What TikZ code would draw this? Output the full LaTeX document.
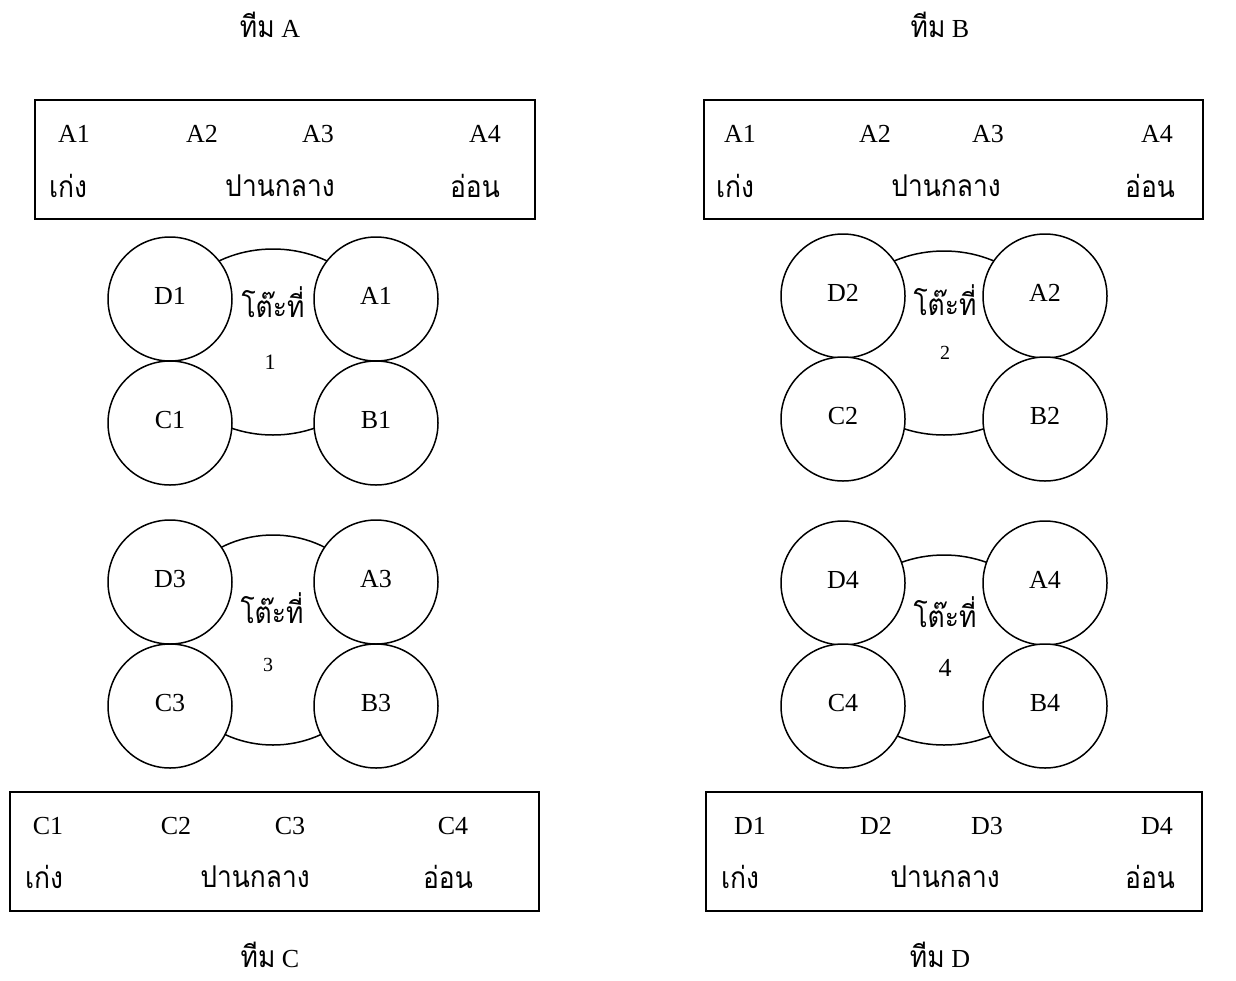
\documentclass[tikz,border=0pt]{standalone}
\usepackage{fontspec}
\setmainfont{Liberation Serif}
\newfontfamily\thaifont[Script=Thai,FakeStretch=0.88]{Loma}
\usetikzlibrary{shapes.geometric}
\tikzset{
  seat/.style={circle, draw, line width=1.5pt, fill=white, minimum size=124pt, inner sep=0pt},
  tableshape/.style={ellipse, draw, line width=1.5pt, minimum width=220pt, inner sep=0pt},
  teambox/.style={draw, line width=2pt, inner sep=0pt},
  lbl/.style={font=\fontsize{26}{28}\selectfont, inner sep=0pt},
  small/.style={font=\fontsize{20}{22}\selectfont, inner sep=0pt},
  th/.style={font=\fontsize{30}{32}\selectfont\thaifont, inner sep=0pt},
  title/.style={font=\fontsize{26}{28}\selectfont, inner sep=0pt},
}
\newcommand{\tht}[1]{{\thaifont\fontsize{30}{32}\selectfont #1}}
\begin{document}
\begin{tikzpicture}[x=1pt,y=-1pt]
\useasboundingbox (0,0) rectangle (1236,980);
% titles
\node[title] (tA) at (270,25) {\tht{ทีม} A};
\node[title] (tB) at (940,25) {\tht{ทีม} B};
\node[title] (tC) at (270,955) {\tht{ทีม} C};
\node[title] (tD) at (940,955) {\tht{ทีม} D};
% team boxes
\node[teambox, minimum width=500pt, minimum height=119pt] (boxA) at (285,159.5) {};
\node[teambox, minimum width=499pt, minimum height=119pt] (boxB) at (953.5,159.5) {};
\node[teambox, minimum width=529pt, minimum height=119pt] (boxC) at (274.5,851.5) {};
\node[teambox, minimum width=496pt, minimum height=119pt] (boxD) at (954,851.5) {};
% box A
\node[lbl] (bA1) at (74,134) {A1};
\node[lbl] (bA2) at (202,134) {A2};
\node[lbl] (bA3) at (318,134) {A3};
\node[lbl] (bA4) at (485,134) {A4};
\node[th] (gA) at (68,186) {เก่ง};
\node[th] (mA) at (280,186) {ปานกลาง};
\node[th] (wA) at (475,186) {อ่อน};
% box B
\node[lbl] (bB1) at (740,134) {A1};
\node[lbl] (bB2) at (875,134) {A2};
\node[lbl] (bB3) at (988,134) {A3};
\node[lbl] (bB4) at (1157,134) {A4};
\node[th] (gB) at (735,186) {เก่ง};
\node[th] (mB) at (946,186) {ปานกลาง};
\node[th] (wB) at (1150,186) {อ่อน};
% box C
\node[lbl] (bC1) at (48,826) {C1};
\node[lbl] (bC2) at (176,826) {C2};
\node[lbl] (bC3) at (290,826) {C3};
\node[lbl] (bC4) at (453,826) {C4};
\node[th] (gC) at (44,877) {เก่ง};
\node[th] (mC) at (255,877) {ปานกลาง};
\node[th] (wC) at (448,877) {อ่อน};
% box D
\node[lbl] (bD1) at (750,826) {D1};
\node[lbl] (bD2) at (876,826) {D2};
\node[lbl] (bD3) at (987,826) {D3};
\node[lbl] (bD4) at (1157,826) {D4};
\node[th] (gD) at (740,877) {เก่ง};
\node[th] (mD) at (945,877) {ปานกลาง};
\node[th] (wD) at (1150,877) {อ่อน};
% table 1
\node[tableshape, minimum height=186pt] (t1) at (273,342) {};
\node[th] (t1a) at (273,302) {โต๊ะที่};
\node[font=\fontsize{22}{24}\selectfont, inner sep=0pt] (t1b) at (270,362) {1};
\foreach \n/\x/\y in {D1/170/299, A1/376/299, C1/170/423, B1/376/423}{
  \node[seat] (s\n) at (\x,\y) {};
  \node[lbl] (l\n) at ([yshift=3pt]s\n.center) {\n};
}
% table 2
\node[tableshape, minimum height=184pt] (t2) at (944,343) {};
\node[th] (t2a) at (945,300) {โต๊ะที่};
\node[small] (t2b) at (945,353) {2};
\foreach \n/\x/\y in {D2/843/296, A2/1045/296, C2/843/419, B2/1045/419}{
  \node[seat] (s\n) at (\x,\y) {};
  \node[lbl] (l\n) at ([yshift=3pt]s\n.center) {\n};
}
% table 3
\node[tableshape, minimum height=210pt] (t3) at (273,640) {};
\node[th] (t3a) at (272,608) {โต๊ะที่};
\node[small] (t3b) at (268,665) {3};
\foreach \n/\x/\y in {D3/170/582, A3/376/582, C3/170/706, B3/376/706}{
  \node[seat] (s\n) at (\x,\y) {};
  \node[lbl] (l\n) at ([yshift=3pt]s\n.center) {\n};
}
% table 4
\node[tableshape, minimum height=190pt] (t4) at (944,650) {};
\node[th] (t4a) at (945,612) {โต๊ะที่};
\node[lbl] (t4b) at (945,668) {4};
\foreach \n/\x/\y in {D4/843/583, A4/1045/583, C4/843/706, B4/1045/706}{
  \node[seat] (s\n) at (\x,\y) {};
  \node[lbl] (l\n) at ([yshift=3pt]s\n.center) {\n};
}
\end{tikzpicture}
\end{document}
